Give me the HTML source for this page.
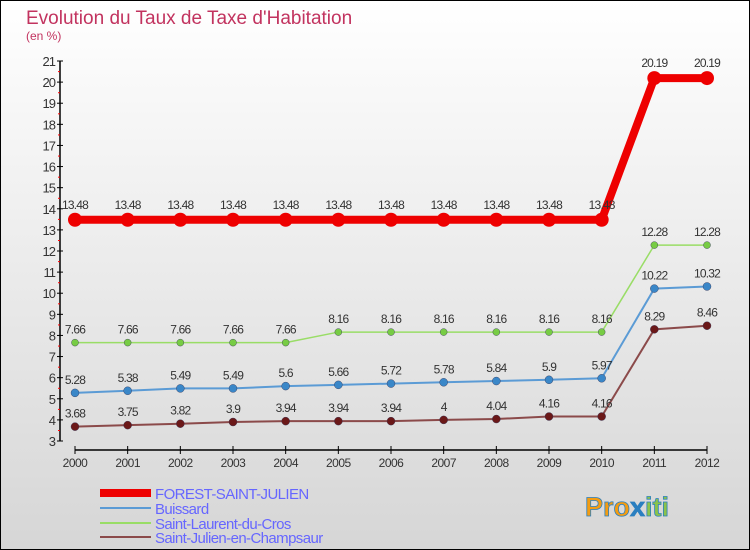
<!DOCTYPE html>
<html><head><meta charset="utf-8"><style>
body{margin:0;}
#c{width:750px;height:550px;position:relative;overflow:hidden;font-family:"Liberation Sans",sans-serif;}
svg text{font-family:"Liberation Sans",sans-serif;}
</style></head><body>
<div id="c">
<svg id="s" width="750" height="550" xmlns="http://www.w3.org/2000/svg">
<defs><linearGradient id="bg" x1="0" y1="0" x2="0" y2="1"><stop offset="0" stop-color="#ffffff"/><stop offset="1" stop-color="#d6d6d6"/></linearGradient></defs>
<rect x="0.5" y="0.5" width="749" height="549" fill="url(#bg)" stroke="#000"/>
<text x="26" y="24" font-size="19" fill="#c2335f">Evolution du Taux de Taxe d'Habitation</text>
<text x="26" y="40" font-size="12" fill="#c2335f">(en %)</text>
<g id="axes"></g><g id="series"></g><g id="legend"></g>
<g>
<text x="585" y="516" font-size="27" font-weight="bold" fill="#f39c12" stroke="#2a7fc0" stroke-width="0.8">Pro<tspan fill="#2a7fc0">x</tspan><tspan fill="#8bc34a">iti</tspan></text>
</g>
</svg></div>
<script>
const years=[2000,2001,2002,2003,2004,2005,2006,2007,2008,2009,2010,2011,2012];
const forest=[13.48,13.48,13.48,13.48,13.48,13.48,13.48,13.48,13.48,13.48,13.48,20.19,20.19];
const buissard=[5.28,5.38,5.49,5.49,5.6,5.66,5.72,5.78,5.84,5.9,5.97,10.22,10.32];
const laurent=[7.66,7.66,7.66,7.66,7.66,8.16,8.16,8.16,8.16,8.16,8.16,12.28,12.28];
const julien=[3.68,3.75,3.82,3.9,3.94,3.94,3.94,4,4.04,4.16,4.16,8.29,8.46];
const yTicks=[3,4,5,6,7,8,9,10,11,12,13,14,15,16,17,18,19,20,21];
const names=["FOREST-SAINT-JULIEN","Buissard","Saint-Laurent-du-Cros","Saint-Julien-en-Champsaur"];
const NS="http://www.w3.org/2000/svg";
const X=i=>75+i*(707-75)/(years.length-1);
const Y=v=>441-(v-3)*(380/18);
function mk(tag,at,parent){const e=document.createElementNS(NS,tag);for(const k in at)e.setAttribute(k,at[k]);parent.appendChild(e);return e;}
const ax=document.getElementById('axes');
let l=mk('line',{x1:60,y1:61,x2:60,y2:441,stroke:'#000','stroke-width':1.5},ax);


yTicks.forEach(t=>{const y=Y(t);
 mk('line',{x1:57,y1:y,x2:63,y2:y,stroke:'#000'},ax);
 if(t<21)mk('line',{x1:58,y1:y-10.5,x2:60,y2:y-10.5,stroke:'#f00'},ax);
 const tx=mk('text',{x:55,y:y+5,'font-size':13,fill:'#333','text-anchor':'end','letter-spacing':'-1'},ax);tx.textContent=t;
 
 });
l=mk('line',{x1:75,y1:450,x2:707,y2:450,stroke:'#000','stroke-width':1.5},ax);


years.forEach((yr,i)=>{const x=X(i);mk('line',{x1:x,y1:446,x2:x,y2:454,stroke:'#000'},ax);
 const tx=mk('text',{x:x,y:467,'font-size':12,fill:'#333','text-anchor':'middle','letter-spacing':'-0.5'},ax);tx.textContent=yr;
 
 });
const sg=document.getElementById('series');
const defs=[[buissard,'#5b9bd5','#3a87c8',2,4,'buissard'],[laurent,'#99dd66','#77cc44',1.5,3.5,'saint-laurent-du-cros'],[julien,'#8b4a4a','#6b1818',2,4,'saint-julien-en-champsaur'],[forest,'#ee0000','#ee0000',8,7,'forest-saint-julien']];
defs.forEach(([d,lc,pc,w,r,n])=>{
 const p=mk('polyline',{points:d.map((v,i)=>X(i)+','+Y(v)).join(' '),fill:'none',stroke:lc,'stroke-width':w},sg);
 
 
 d.forEach((v,i)=>{const c=mk('circle',{cx:X(i),cy:Y(v),r:r,fill:pc,stroke:n=='forest-saint-julien'?'none':'#335',"stroke-width":0.4},sg);
  
  
  const t=mk('text',{x:X(i),y:Y(v)-(n=='forest-saint-julien'?11:9),'font-size':12,fill:'#333','text-anchor':'middle','letter-spacing':'-0.8'},sg);t.textContent=v;
  
  });
});
const lg=document.getElementById('legend');
const lc=['#ee0000','#5b9bd5','#99dd66','#8b4a4a'],lw=[8,2,2,2],ly=[493,508,523,537];
names.forEach((n,i)=>{const g=mk('g',{},lg);
 
 
 mk('line',{x1:100,y1:ly[i],x2:151,y2:ly[i],stroke:lc[i],'stroke-width':lw[i]},g);
 const t=mk('text',{x:155,y:ly[i]+6,'font-size':15,fill:'#6666ff','letter-spacing':'-0.6'},g);t.textContent=n;});
</script>
</body></html>
